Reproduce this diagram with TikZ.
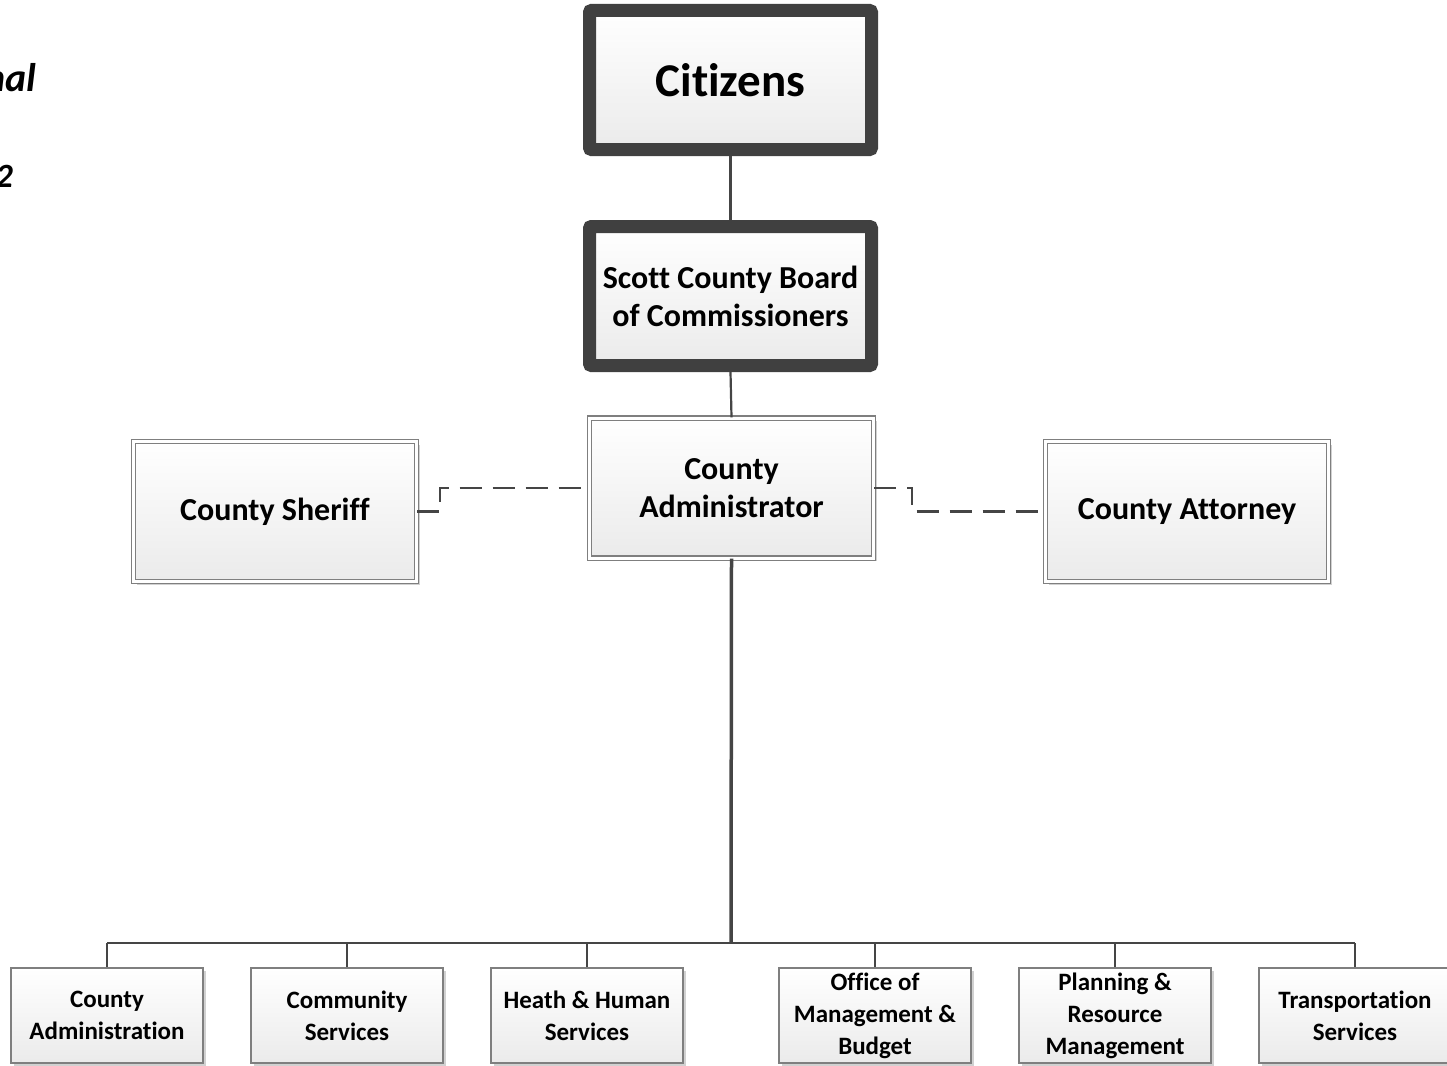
\documentclass[tikz,border=0pt]{standalone}
\usepackage{fontspec}
\setmainfont{Carlito}[Ligatures={NoCommon}]
\usetikzlibrary{shadows,calc}
\definecolor{dk}{HTML}{404040}
\definecolor{bd}{HTML}{7F7F7F}
\definecolor{ln}{HTML}{454545}
\begin{document}
\begin{tikzpicture}[x=1pt,y=-1pt,
  boxfill/.style={top color=white, bottom color=black!8, shading angle=0},
  shad/.style={drop shadow={shadow xshift=3pt, shadow yshift=-3pt, opacity=0.18, fill=black}},
  thickbox/.style={boxfill, shad, draw=dk, line width=13pt, rounded corners=2pt,
    minimum width=282pt, minimum height=139pt, inner sep=0pt, align=center, text=black},
  dblbox/.style={boxfill, shad, draw=bd, line width=1.2pt, double=white, double distance=3pt,
    minimum width=284pt, minimum height=140pt, inner sep=0pt, align=center,
    font=\bfseries\fontsize{32}{38}\selectfont},
  unitbox/.style={boxfill, shad, draw=bd, line width=1.3pt,
    minimum width=192pt, minimum height=95pt, inner sep=0pt, align=center,
    font=\bfseries\fontsize{25}{32}\selectfont},
  conn/.style={draw=ln, line width=2.2pt},
  dashconn/.style={draw=ln, line width=2.2pt, dash pattern=on 22pt off 11pt}
]
\useasboundingbox (0,0) rectangle (1447,1065);

% partial title text at upper left
\node[anchor=base east, inner sep=0pt, font=\bfseries\itshape\fontsize{40}{48}\selectfont] (titleA) at (37,92) {nal};
\node[anchor=base east, inner sep=0pt, font=\bfseries\itshape\fontsize{34}{40}\selectfont] (titleB) at (13,187) {2};

% top hierarchy
\node[thickbox, font=\bfseries\fontsize{47}{54}\selectfont] (cit) at (730.5,80) {Citizens};
\node[thickbox, font=\bfseries\fontsize{32}{38}\selectfont] (board) at (730.5,296) {Scott County Board\\of Commissioners};
\node[dblbox] (admin) at (731.5,488) {County\\Administrator};
\node[dblbox, minimum width=283pt] (sheriff) at (275,511.5) {County Sheriff};
\node[dblbox, minimum width=283pt] (attorney) at (1187,511.5) {County Attorney};

% departments
\node[unitbox] (d1) at (107,1015.5) {County\\Administration};
\node[unitbox] (d2) at (347,1015.5) {Community\\Services};
\node[unitbox] (d3) at (587,1015.5) {Heath \& Human\\Services};
\node[unitbox] (d4) at (875,1015.5) {Office of\\Management \&\\Budget};
\node[unitbox] (d5) at (1115,1015.5) {Planning \&\\Resource\\Management};
\node[unitbox] (d6) at (1355,1015.5) {Transportation\\Services};

% connectors
\draw[conn] (cit.south) -- (board.north);
\draw[conn] (board.south) -- (admin.north);
\draw[dashconn] (sheriff.east) -- ++(23,0) |- (admin.west);
\draw[dashconn] (admin.east) -- ++(38,0) |- (attorney.west);

\coordinate (bus) at (731,943);
\draw[draw=ln, line width=3.5pt] (admin.south) -- (bus);
\draw[draw=ln, line width=2.5pt] (bus -| d1.north) -- (bus -| d6.north);
\foreach \d in {d1,d2,d3,d4,d5,d6}
  \draw[conn] (bus -| \d.north) -- (\d.north);
\end{tikzpicture}
\end{document}
